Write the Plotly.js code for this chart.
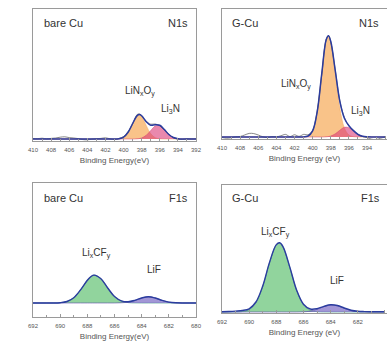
<!DOCTYPE html>
<html>
<head>
<meta charset="utf-8">
<script src="https://cdn.plot.ly/plotly-3.0.1.min.js"></script>
<style>html,body{margin:0;padding:0;background:#fff;}#chart{width:387px;height:341px;}</style>
</head>
<body>
<div id="chart"></div>
<script>
// N1s binding energies (eV)
var nE = [410,409.5,409,408.5,408,407.5,407,406.5,406,405.5,405,404.5,404,403.5,403,402.5,402,401.5,401,400.5,400,399.5,399,398.5,398.25,398,397.5,397,396.5,396,395.5,395,394.5,394,393.5,393,392.5,392];
// bare Cu N1s
var bareN_raw   = [0.5,0.3,0.8,0.2,0.6,1.0,1.8,2.2,1.4,1.0,0.4,-0.6,-0.8,-0.2,0.3,0.6,1.2,0.2,-0.4,0.6,2.4,7.5,15.0,24.5,25.0,23.0,17.8,14.8,15.0,13.2,9.0,4.8,1.2,0.0,-0.5,0.3,0.0,0.2];
var bareN_fit   = [0,0,0,0,0,0,0,0,0,0,0,0,0,0,0,0,0,0,0,0.3,1.8,6.7,15.5,23.4,24.5,23.3,17.3,13.8,14.3,13.8,9.5,4.5,1.5,0.3,0,0,0,0];
var bareN_LiNxOy= [0,0,0,0,0,0,0,0,0,0,0,0,0,0,0,0,0,0,0,0.3,1.8,6.7,15.5,23.2,24.0,22.2,13.6,5.3,1.3,0.2,0,0,0,0,0,0,0,0];
var bareN_Li3N  = [0,0,0,0,0,0,0,0,0,0,0,0,0,0,0,0,0,0,0,0,0,0,0,0.2,0.5,1.1,3.7,8.5,13.0,13.6,9.5,4.5,1.5,0.3,0,0,0,0];
// G-Cu N1s
var gN_raw   = [-0.5,-1.2,-0.8,0.2,0.5,2.0,3.6,3.4,2.0,0.2,-0.6,0.4,0.2,1.2,2.6,0.4,2.2,0.6,2.6,2.2,6.8,25.8,62.0,97.8,101.5,95.0,66.5,36.0,19.5,11.0,6.8,2.2,0.4,-0.6,-2.2,-2.6,-1.2,0.0];
var gN_fit   = [0,0,0,0,0,0,0,0,0,0,0,0,0,0,0,0,0,0,0.1,1.0,6.2,25.2,63.0,97.4,101.3,95.5,66.0,35.6,18.8,11.3,6.4,2.7,0.8,0.2,0,0,0,0];
var gN_LiNxOy= [0,0,0,0,0,0,0,0,0,0,0,0,0,0,0,0,0,0,0.1,1.0,6.2,25.2,63.0,97.2,100.8,94.5,62.8,28.8,9.1,2.0,0.3,0,0,0,0,0,0,0];
var gN_Li3N  = [0,0,0,0,0,0,0,0,0,0,0,0,0,0,0,0,0,0,0,0,0,0,0,0.2,0.5,1.0,3.2,6.8,9.7,9.3,6.1,2.7,0.8,0.2,0,0,0,0];

// F1s binding energies (eV)
var fE = [692,691.5,691,690.5,690,689.5,689,688.5,688,687.75,687.5,687,686.5,686,685.5,685,684.5,684,683.5,683,682.5,682,681.5,681,680.5,680];
// bare Cu F1s
var bareF_fit   = [0,0,0,0.04,0.3,1.5,5.3,13.1,22.7,26.3,27.9,24.3,15.0,6.5,2.2,1.3,2.65,5.0,6.3,5.0,2.6,0.9,0.2,0,0,0];
var bareF_LixCFy= [0,0,0,0.04,0.3,1.5,5.3,13.1,22.7,26.3,27.9,24.3,15.0,6.5,2.0,0.4,0.05,0,0,0,0,0,0,0,0,0];
var bareF_LiF   = [0,0,0,0,0,0,0,0,0,0,0,0,0,0,0.2,0.9,2.6,5.0,6.3,5.0,2.6,0.9,0.2,0,0,0];
// G-Cu F1s
var gF_fit   = [0.3,0.5,0.9,1.5,3.2,10.0,26.0,49.6,67.4,69.2,65.1,44.6,21.7,7.8,3.0,3.3,5.6,7.2,6.5,4.0,1.8,0.7,0.4,0.3,0.3,0.3];
var gF_LixCFy= [0,0,0.06,0.45,2.4,9.3,25.5,49.2,67.1,68.9,64.8,44.3,21.4,7.3,1.8,0.3,0.03,0,0,0,0,0,0,0,0,0];
var gF_LiF   = [0,0,0,0,0,0,0,0,0,0,0,0,0,0.2,0.9,2.7,5.3,6.9,6.2,3.7,1.5,0.4,0.1,0,0,0];

var nTicks = [410,408,406,404,402,400,398,396,394,392];
var fTicks = [692,690,688,686,684,682,680];

var cOrange = 'rgba(247,172,92,0.72)';
var cPink = 'rgba(218,58,118,0.6)';
var cGreen = 'rgba(108,198,124,0.75)';
var cPurple = 'rgba(122,106,196,0.7)';
var cFit = '#2b3c9e';
var cRaw = '#555555';

function comp(x, y, ax, fill, line) {
  return {x: x, y: y, xaxis: 'x' + ax, yaxis: 'y' + ax, type: 'scatter', mode: 'lines',
    line: {shape: 'spline', color: line, width: 0.6}, fill: 'tozeroy', fillcolor: fill,
    hoverinfo: 'skip', showlegend: false};
}
function ln(x, y, ax, color, w) {
  return {x: x, y: y, xaxis: 'x' + ax, yaxis: 'y' + ax, type: 'scatter', mode: 'lines',
    line: {shape: 'spline', color: color, width: w}, showlegend: false};
}
var A = ['', '2', '3', '4'];
var data = [
  comp(nE, bareN_LiNxOy, A[0], cOrange, 'rgba(240,160,80,0.8)'),
  comp(nE, bareN_Li3N, A[0], cPink, 'rgba(210,60,110,0.8)'),
  ln(nE, bareN_raw, A[0], cRaw, 0.7),
  ln(nE, bareN_fit, A[0], cFit, 1.5),
  comp(nE, gN_LiNxOy, A[1], cOrange, 'rgba(240,160,80,0.8)'),
  comp(nE, gN_Li3N, A[1], cPink, 'rgba(210,60,110,0.8)'),
  ln(nE, gN_raw, A[1], cRaw, 0.7),
  ln(nE, gN_fit, A[1], cFit, 1.5),
  comp(fE, bareF_LixCFy, A[2], cGreen, '#2e8f78'),
  comp(fE, bareF_LiF, A[2], cPurple, '#5a4aa8'),
  ln(fE, bareF_fit, A[2], cFit, 1.4),
  comp(fE, gF_LixCFy, A[3], cGreen, '#2e8f78'),
  comp(fE, gF_LiF, A[3], cPurple, '#5a4aa8'),
  ln(fE, gF_fit, A[3], cFit, 1.4)
];

var FONT = 'Liberation Sans, Arial, sans-serif';
function xax(domain, range, ticks, anchor, mirror, titleText) {
  return {domain: domain, range: range, anchor: anchor, tickvals: ticks,
    showline: true, linecolor: '#9a9a9a', linewidth: 1, mirror: mirror,
    ticks: 'inside', ticklen: 3, tickcolor: '#9a9a9a', tickwidth: 1,
    minor: {dtick: 1, ticks: 'inside', ticklen: 2, tickcolor: '#9a9a9a'},
    tickfont: {family: FONT, size: 6, color: '#555'}, ticklabelstandoff: 3,
    showgrid: false, zeroline: false, fixedrange: true,
    title: {text: titleText, font: {family: FONT, size: 8, color: '#555'}, standoff: 5}};
}
function yax(domain, range, anchor, mirror) {
  return {domain: domain, range: range, anchor: anchor, showline: true, linecolor: '#9a9a9a',
    linewidth: 1, mirror: mirror, ticks: '', showticklabels: false, showgrid: false,
    zeroline: false, fixedrange: true};
}
var xL = [0.0853, 0.5065], xR = [0.5736, 1.0];
var layout = {
  width: 387, height: 341, margin: {l: 0, r: 0, t: 0, b: 0},
  paper_bgcolor: '#fff', plot_bgcolor: '#fff', showlegend: false,
  font: {family: FONT},
  xaxis: xax(xL, [410, 392], nTicks, 'y', true, 'Binding Energy(eV)'),
  yaxis: yax([0.5865, 0.9736], [-2, 130], 'x', true),
  xaxis2: xax(xR, [410, 391.8], nTicks, 'y2', true, 'Binding Energy (eV)'),
  yaxis2: yax([0.5924, 0.9736], [-2, 128], 'x2', false),
  xaxis3: xax(xL, [692, 680], fTicks, 'y3', true, 'Binding Energy(eV)'),
  yaxis3: yax([0.0704, 0.4633], [-14, 120], 'x3', true),
  xaxis4: xax(xR, [692, 679.85], fTicks, 'y4', true, 'Binding Energy (eV)'),
  yaxis4: yax([0.0821, 0.4575], [-1, 127], 'x4', false),
  annotations: []
};
function ann(text, x, y, xanchor, size) {
  layout.annotations.push({text: text, x: x, y: y, xref: 'paper', yref: 'paper',
    xanchor: xanchor, yanchor: 'middle', showarrow: false,
    font: {family: FONT, size: size || 11, color: '#333'}});
}
ann('bare Cu', 0.1085, 0.9326, 'left');
ann('N1s', 0.4910, 0.9326, 'right');
ann('LiN<sub>x</sub>O<sub>y</sub>', 0.3618, 0.733, 'center', 10);
ann('Li<sub>3</sub>N', 0.4393, 0.680, 'center', 10);
ann('G-Cu', 0.5943, 0.9326, 'left');
ann('N1s', 0.9845, 0.9326, 'right');
ann('LiN<sub>x</sub>O<sub>y</sub>', 0.7649, 0.753, 'center', 10);
ann('Li<sub>3</sub>N', 0.9328, 0.674, 'center', 10);
ann('bare Cu', 0.1085, 0.4194, 'left');
ann('F1s', 0.4910, 0.4194, 'right');
ann('Li<sub>x</sub>CF<sub>y</sub>', 0.2481, 0.258, 'center', 10);
ann('LiF', 0.3979, 0.2111, 'center', 10);
ann('G-Cu', 0.5943, 0.4194, 'left');
ann('F1s', 0.9871, 0.4194, 'right');
ann('Li<sub>x</sub>CF<sub>y</sub>', 0.7106, 0.318, 'center', 10);
ann('LiF', 0.8708, 0.1760, 'center', 10);

Plotly.newPlot('chart', data, layout, {displayModeBar: false, staticPlot: true});
</script>
</body>
</html>
